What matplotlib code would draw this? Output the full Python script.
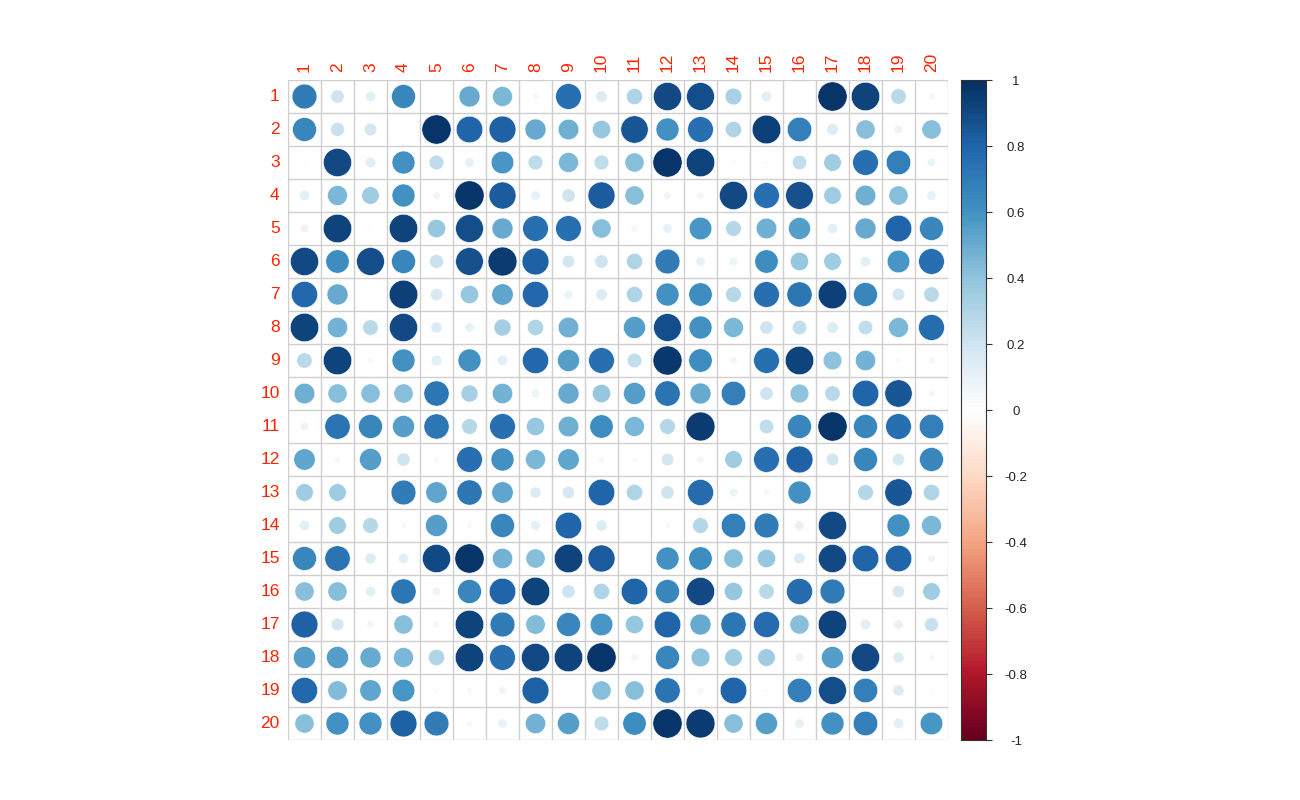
import numpy as np
import matplotlib
matplotlib.use("Agg")
import matplotlib.pyplot as plt
from matplotlib.colors import LinearSegmentedColormap
from matplotlib.patches import Circle

labels = [str(i) for i in range(1, 21)]

corr = [
    [0.70, 0.20, 0.12, 0.65, 0.00, 0.50, 0.45, 0.05, 0.75, 0.15, 0.30, 0.90, 0.88, 0.32, 0.12, 0.00, 0.97, 0.92, 0.27, 0.05],
    [0.65, 0.22, 0.18, 0.01, 0.97, 0.80, 0.82, 0.50, 0.48, 0.38, 0.85, 0.60, 0.75, 0.30, 0.93, 0.68, 0.15, 0.42, 0.08, 0.42],
    [0.02, 0.90, 0.13, 0.60, 0.25, 0.10, 0.58, 0.25, 0.45, 0.25, 0.42, 0.97, 0.92, 0.03, 0.02, 0.24, 0.35, 0.75, 0.68, 0.08],
    [0.12, 0.45, 0.35, 0.60, 0.07, 0.97, 0.83, 0.10, 0.20, 0.83, 0.42, 0.07, 0.06, 0.90, 0.75, 0.87, 0.35, 0.48, 0.42, 0.10],
    [0.08, 0.92, 0.02, 0.92, 0.38, 0.88, 0.50, 0.75, 0.75, 0.42, 0.05, 0.10, 0.58, 0.28, 0.48, 0.55, 0.12, 0.50, 0.80, 0.65],
    [0.90, 0.62, 0.88, 0.65, 0.22, 0.87, 0.95, 0.82, 0.18, 0.20, 0.30, 0.70, 0.10, 0.08, 0.62, 0.38, 0.35, 0.12, 0.58, 0.75],
    [0.78, 0.50, 0.00, 0.93, 0.17, 0.38, 0.52, 0.78, 0.09, 0.15, 0.30, 0.60, 0.62, 0.28, 0.75, 0.72, 0.93, 0.65, 0.18, 0.27],
    [0.92, 0.47, 0.27, 0.90, 0.14, 0.10, 0.33, 0.30, 0.48, 0.01, 0.55, 0.88, 0.60, 0.45, 0.20, 0.24, 0.15, 0.24, 0.45, 0.76],
    [0.27, 0.92, 0.04, 0.60, 0.13, 0.60, 0.12, 0.78, 0.55, 0.75, 0.24, 0.96, 0.62, 0.06, 0.75, 0.92, 0.40, 0.47, 0.03, 0.05],
    [0.48, 0.42, 0.42, 0.42, 0.72, 0.33, 0.47, 0.08, 0.50, 0.38, 0.55, 0.73, 0.50, 0.68, 0.20, 0.40, 0.27, 0.80, 0.85, 0.05],
    [0.08, 0.73, 0.65, 0.55, 0.72, 0.28, 0.75, 0.38, 0.48, 0.62, 0.45, 0.28, 0.95, 0.00, 0.24, 0.65, 0.97, 0.65, 0.75, 0.68],
    [0.52, 0.05, 0.55, 0.20, 0.04, 0.75, 0.60, 0.45, 0.52, 0.05, 0.03, 0.18, 0.06, 0.35, 0.75, 0.82, 0.18, 0.65, 0.17, 0.65],
    [0.35, 0.35, 0.01, 0.70, 0.52, 0.72, 0.52, 0.14, 0.17, 0.80, 0.30, 0.20, 0.77, 0.08, 0.05, 0.60, 0.00, 0.28, 0.85, 0.30],
    [0.12, 0.35, 0.28, 0.04, 0.55, 0.04, 0.65, 0.11, 0.80, 0.14, 0.01, 0.04, 0.28, 0.68, 0.70, 0.10, 0.90, 0.01, 0.60, 0.45],
    [0.65, 0.73, 0.14, 0.12, 0.90, 0.97, 0.47, 0.42, 0.92, 0.83, 0.00, 0.60, 0.62, 0.42, 0.38, 0.14, 0.90, 0.80, 0.80, 0.07],
    [0.42, 0.42, 0.12, 0.72, 0.08, 0.65, 0.80, 0.92, 0.20, 0.30, 0.80, 0.65, 0.90, 0.38, 0.27, 0.77, 0.70, 0.01, 0.17, 0.35],
    [0.82, 0.18, 0.06, 0.42, 0.05, 0.92, 0.70, 0.43, 0.65, 0.58, 0.38, 0.80, 0.50, 0.72, 0.77, 0.42, 0.92, 0.12, 0.10, 0.22],
    [0.55, 0.55, 0.50, 0.45, 0.30, 0.92, 0.75, 0.90, 0.92, 0.97, 0.06, 0.65, 0.40, 0.35, 0.35, 0.08, 0.55, 0.90, 0.14, 0.04],
    [0.78, 0.43, 0.52, 0.58, 0.03, 0.04, 0.07, 0.82, 0.00, 0.42, 0.42, 0.73, 0.05, 0.80, 0.02, 0.68, 0.88, 0.68, 0.14, 0.02],
    [0.42, 0.60, 0.60, 0.82, 0.70, 0.04, 0.10, 0.47, 0.55, 0.25, 0.62, 0.97, 0.95, 0.42, 0.55, 0.10, 0.60, 0.68, 0.12, 0.58],
]

cbar_ticks = [1, 0.8, 0.6, 0.4, 0.2, 0, -0.2, -0.4, -0.6, -0.8, -1]

col2 = ["#67001F", "#B2182B", "#D6604D", "#F4A582", "#FDDBC7", "#FFFFFF",
        "#D1E5F0", "#92C5DE", "#4393C3", "#2166AC", "#053061"]
cmap = LinearSegmentedColormap.from_list("RdBu_corr", col2, N=200)

W, H = 1300, 800
fig = plt.figure(figsize=(13, 8), dpi=100)

n = len(labels)
x0, x1, y0, y1 = 288, 948, 80, 740
ax = fig.add_axes([x0 / W, 1 - y1 / H, (x1 - x0) / W, (y1 - y0) / H])
ax.set_xlim(0.5, n + 0.5)
ax.set_ylim(n + 0.5, 0.5)
ax.set_aspect("auto")
ax.axis("off")

M = np.array(corr)
grid_col = "#CFCFCF"
for k in range(n + 1):
    ax.plot([0.5 + k, 0.5 + k], [0.5, n + 0.5], color=grid_col, lw=1.0, zorder=1)
    ax.plot([0.5, n + 0.5], [0.5 + k, 0.5 + k], color=grid_col, lw=1.0, zorder=1)

for i in range(n):
    for j in range(n):
        v = M[i, j]
        r = 0.45 * np.sqrt(abs(v))
        c = cmap((v + 1) / 2)
        ax.add_patch(Circle((j + 1, i + 1), r, facecolor=c, edgecolor="white",
                            lw=0.4, zorder=2))

lab_col = "#FF2200"
for k, lab in enumerate(labels):
    ax.text(k + 1, 0.5 - 0.25, lab, rotation=90, ha="center", va="bottom",
            color=lab_col, fontsize=12.5, family="Liberation Sans")
    ax.text(0.5 - 0.25, k + 1, lab, ha="right", va="center",
            color=lab_col, fontsize=12.5, family="Liberation Sans")

# colorbar
cx0, cx1 = 961, 986
cax = fig.add_axes([cx0 / W, 1 - y1 / H, (cx1 - cx0) / W, (y1 - y0) / H])
grad = np.linspace(1, -1, 200).reshape(-1, 1)
cax.imshow(grad, aspect="auto", cmap=cmap, vmin=-1, vmax=1,
           extent=[0, 1, -1, 1], interpolation="nearest")
cax.set_xlim(0, 1)
cax.set_ylim(-1, 1)
cax.set_xticks([])
cax.yaxis.tick_right()
cax.set_yticks(cbar_ticks)
cax.set_yticklabels([])
cax.tick_params(axis="y", direction="out", length=4, width=0.8, color="#333333")
for s in cax.spines.values():
    s.set_color("#333333")
    s.set_linewidth(0.8)
for t in cbar_ticks:
    cax.text(2.2, t - 0.006, f"{t:g}", ha="center", va="center", fontsize=9.5,
             family="Liberation Sans", color="#222222", transform=cax.transData,
             clip_on=False)

fig.savefig("out.png", dpi=100)
